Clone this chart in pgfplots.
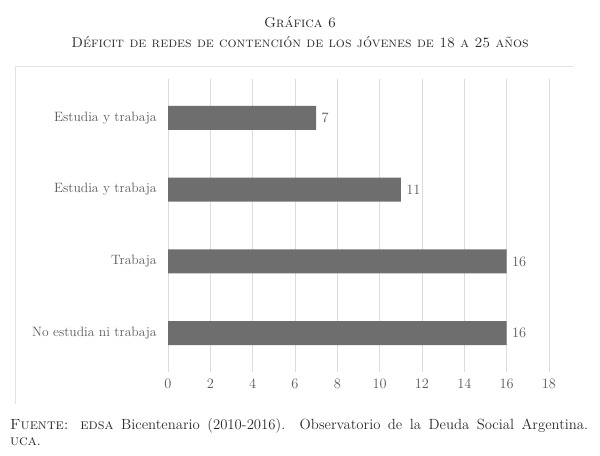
\documentclass[border=0pt]{standalone}
\usepackage{pgfplots}
\pgfplotsset{compat=1.18}
\definecolor{bargray}{HTML}{6E6E6E}
\definecolor{gridgray}{HTML}{DCDCDC}
\definecolor{framegray}{HTML}{E2E2E2}
\definecolor{labelgray}{HTML}{595959}
\definecolor{titlegray}{HTML}{2B2B2B}
\begin{document}
\begin{tikzpicture}
\path[use as bounding box] (0bp,0bp) rectangle (600bp,-456bp);
\draw[framegray, line width=1bp] (15bp,-404bp) -- (15bp,-66bp) -- (573bp,-66bp);
\node[font=\fontsize{14.3}{16}\selectfont\scshape, text=titlegray] at (300bp,-22bp) {Gráfica 6};
\node[font=\fontsize{14.3}{16}\selectfont\scshape, text=titlegray] at (300bp,-42bp) {Déficit de redes de contención de los jóvenes de 18 a 25 años};
\begin{axis}[
    at={(168bp,-369bp)}, anchor=south west,
    scale only axis, width=381bp, height=287bp,
    xbar, bar width=24bp,
    xmin=0, xmax=18, ymin=-0.5, ymax=3.5,
    y dir=reverse,
    xtick={0,2,...,18},
    ytick={0,1,2,3},
    yticklabels={Estudia y trabaja, Estudia y trabaja, Trabaja, No estudia ni trabaja},
    xmajorgrids, grid style={gridgray, line width=0.8bp},
    axis line style={draw=none},
    tick align=outside, major tick length=3bp,
    xtick style={draw=gridgray, line width=0.8bp},
    ytick style={draw=none},
    tick label style={font=\fontsize{13.6}{15}\selectfont, text=labelgray},
    yticklabel style={xshift=-5bp},
    xticklabel style={yshift=-4bp},
    nodes near coords,
    nodes near coords style={font=\fontsize{13.6}{15}\selectfont, text=labelgray, xshift=2bp},
]
\addplot[fill=bargray, draw=none] coordinates {(7,0) (11,1) (16,2) (16,3)};
\end{axis}
\node[anchor=north west, text width=578bp, align=justify, inner sep=0pt,
      font=\fontsize{14.8}{16}\selectfont, text=titlegray] at (10bp,-418bp)
  {\textsc{Fuente:} \textsc{edsa} Bicentenario (2010-2016). Observatorio de la Deuda Social Argentina.\linebreak \textsc{uca}.};
\end{tikzpicture}
\end{document}
